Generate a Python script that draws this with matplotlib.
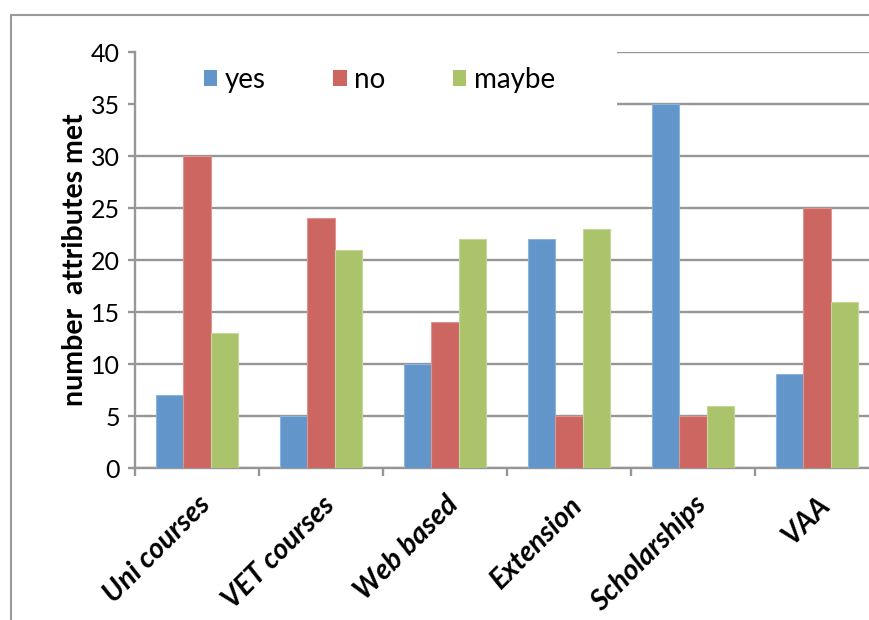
import matplotlib
matplotlib.use("Agg")
import matplotlib.pyplot as plt
from matplotlib.patches import Rectangle, Patch
import numpy as np

categories = ["Uni courses", "VET courses", "Web based", "Extension", "Scholarships", "VAA"]
series_names = ["yes", "no", "maybe"]
yes_vals = [7, 5, 10, 22, 35, 9]
no_vals = [30, 24, 14, 5, 5, 25]
maybe_vals = [13, 21, 22, 23, 6, 16]
y_ticks = [0, 5, 10, 15, 20, 25, 30, 35, 40]

colors = ["#6296CA", "#CD6660", "#ABC46B"]
edges = ["#8DB3DA", "#DC9590", "#C4D79B"]
grid_col = "#969696"

plt.rcParams["font.family"] = ["Lato", "DejaVu Sans"]

W, H = 870, 620
fig = plt.figure(figsize=(W / 100, H / 100), dpi=100)

# outer chart border
fig.patches.append(Rectangle((11 / W, -0.1), 1.2, 1 - 15 / H + 0.1,
                             transform=fig.transFigure, fill=False,
                             edgecolor="#9A9A9A", linewidth=1.5))

left, right = 135 / W, 879 / W
bottom, top = 1 - 468 / H, 1 - 52 / H
ax = fig.add_axes([left, bottom, right - left, top - bottom])

x = np.arange(len(categories))
bw = 0.222
for i, vals in enumerate([yes_vals, no_vals, maybe_vals]):
    ax.bar(x + (i - 1) * bw, vals, width=bw, color=colors[i],
           edgecolor=edges[i], linewidth=0.8, zorder=3)

ax.set_xlim(-0.5, len(categories) - 0.5)
ax.set_ylim(0, 40)
ax.set_yticks(y_ticks)
ax.set_yticklabels([str(t) for t in y_ticks], fontsize=18)
ax.yaxis.grid(True, color=grid_col, linewidth=1.7, zorder=0)
ax.set_axisbelow(True)

# category boundary ticks
ax.set_xticks(np.arange(len(categories) + 1) - 0.5, minor=True)
ax.set_xticks(x)
ax.set_xticklabels(categories, rotation=45, ha="right", rotation_mode="anchor",
                   fontsize=20.5, fontweight="bold", fontstyle="italic")
ax.tick_params(axis="x", which="major", length=0, pad=17)
ax.tick_params(axis="x", which="minor", length=6, width=1.7, color=grid_col)
ax.tick_params(axis="y", length=5, width=1.7, color=grid_col, pad=6)

for s in ["top", "right"]:
    ax.spines[s].set_visible(False)
for s in ["left", "bottom"]:
    ax.spines[s].set_color(grid_col)
    ax.spines[s].set_linewidth(1.7)

ax.set_ylabel("number  attributes met", fontsize=20.5, fontweight="bold", labelpad=2)

# legend panel covering the upper grid lines
ax.add_patch(Rectangle((-0.5, 31.5), (617 - 135) / 124, 9.5, facecolor="white",
                       edgecolor="none", zorder=1, clip_on=False))
handles = [Patch(facecolor=c, edgecolor="none") for c in colors]
ax.legend(handles, series_names, loc="center left",
          bbox_to_anchor=((204 - 135) / 744, (468 - 80) / 416),
          ncol=3, frameon=False, fontsize=20, handlelength=0.48,
          handleheight=0.5, handletextpad=0.28, columnspacing=2.42,
          borderpad=0, borderaxespad=0)

fig.savefig("out.png", dpi=100)
